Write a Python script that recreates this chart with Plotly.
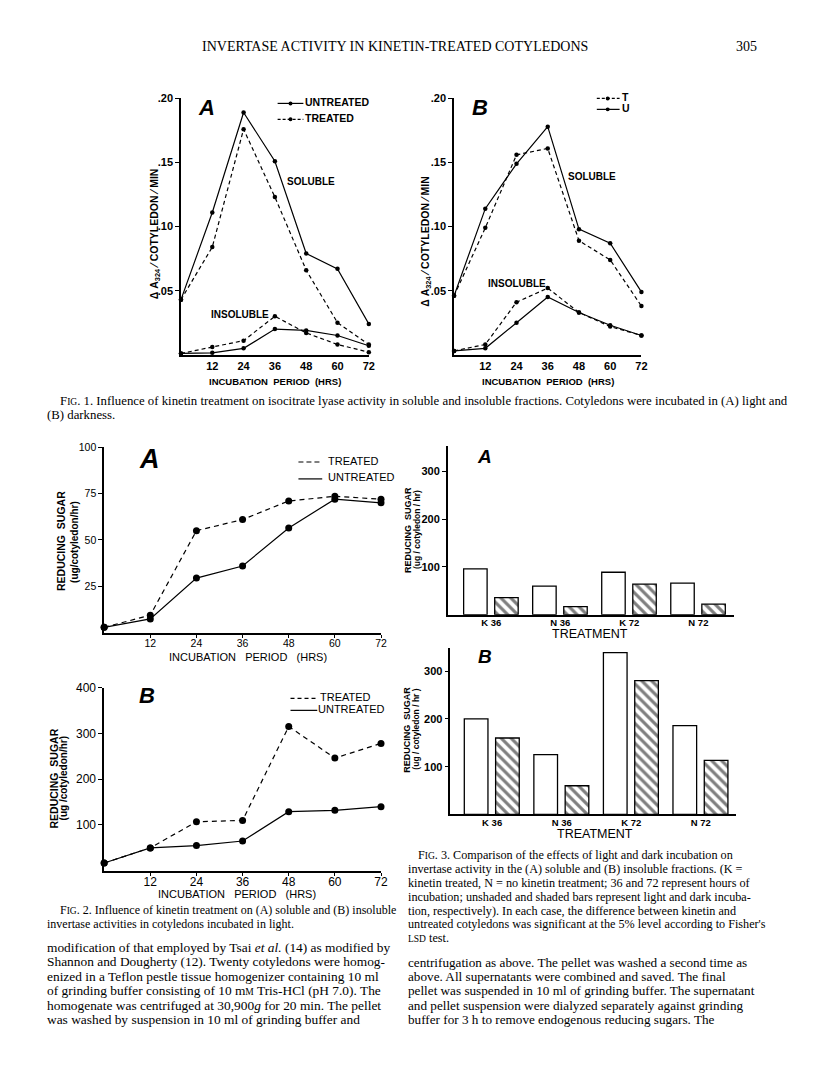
import plotly.graph_objects as go

# Page (window) size and the default 8px body margin of the written html page
PAGE_W, PAGE_H = 816, 1073
OFF = 8
W, H = PAGE_W - 2 * OFF, PAGE_H - 2 * OFF

# ---------------- DATA ----------------
hours = [0, 12, 24, 36, 48, 60, 72]
hour_ticks = [12, 24, 36, 48, 60, 72]

# Fig 1A (light)
f1a_sol_untreated = [0.043, 0.111, 0.189, 0.151, 0.079, 0.067, 0.024]
f1a_sol_treated = [0.043, 0.084, 0.176, 0.123, 0.066, 0.025, 0.008]
f1a_ins_untreated = [0.001, 0.0015, 0.005, 0.020, 0.019, 0.015, 0.007]
f1a_ins_treated = [0.001, 0.006, 0.011, 0.030, 0.017, 0.008, 0.002]

# Fig 1B (dark)
f1b_sol_U = [0.046, 0.114, 0.149, 0.178, 0.098, 0.087, 0.049]
f1b_sol_T = [0.046, 0.099, 0.156, 0.161, 0.089, 0.074, 0.038]
f1b_ins_U = [0.003, 0.005, 0.025, 0.045, 0.033, 0.023, 0.015]
f1b_ins_T = [0.003, 0.008, 0.041, 0.052, 0.033, 0.022, 0.015]

# Fig 2A (soluble)
f2a_treated = [3, 9.5, 55, 61, 71, 73.5, 72]
f2a_untreated = [3, 7.5, 29.5, 36, 56.5, 72, 70]

# Fig 2B (insoluble)
f2b_treated = [17, 50, 107, 110, 315, 246, 278]
f2b_untreated = [17, 50, 55, 65, 129, 132, 140]

# Fig 3
treatments = ["K 36", "N 36", "K 72", "N 72"]
f3a_light = [96, 60, 89, 66]
f3a_dark = [36, 17, 64, 22]
f3b_light = [200, 125, 339, 186]
f3b_dark = [160, 60, 280, 113]

# ---------------- TEXT ----------------
header = "INVERTASE ACTIVITY IN KINETIN-TREATED COTYLEDONS"
page_no = "305"
SC = "<span style='font-size:9.5px'>"
fig1_caption = [
    "F" + SC + "IG</span>. 1. Influence of kinetin treatment on isocitrate lyase activity in soluble and insoluble fractions. Cotyledons were incubated in (A) light and",
    "(B) darkness.",
]
fig2_caption = [
    "F" + SC + "IG</span>. 2. Influence of kinetin treatment on (A) soluble and (B) insoluble",
    "invertase activities in cotyledons incubated in light.",
]
fig3_caption = [
    "F" + SC + "IG</span>. 3. Comparison of the effects of light and dark incubation on",
    "invertase activity in the (A) soluble and (B) insoluble fractions. (K =",
    "kinetin treated, N = no kinetin treatment; 36 and 72 represent hours of",
    "incubation; unshaded and shaded bars represent light and dark incuba-",
    "tion, respectively). In each case, the difference between kinetin and",
    "untreated cotyledons was significant at the 5% level according to Fisher's",
    SC + "LSD</span> test.",
]
body_left = [
    "modification of that employed by Tsai <i>et al.</i> (14) as modified by",
    "Shannon and Dougherty (12). Twenty cotyledons were homog-",
    "enized in a Teflon pestle tissue homogenizer containing 10 ml",
    "of grinding buffer consisting of 10 m" + SC + "M</span> Tris-HCl (pH 7.0). The",
    "homogenate was centrifuged at 30,900<i>g</i> for 20 min. The pellet",
    "was washed by suspension in 10 ml of grinding buffer and",
]
body_right = [
    "centrifugation as above. The pellet was washed a second time as",
    "above. All supernatants were combined and saved. The final",
    "pellet was suspended in 10 ml of grinding buffer. The supernatant",
    "and pellet suspension were dialyzed separately against grinding",
    "buffer for 3 h to remove endogenous reducing sugars. The",
]

SANS = "Liberation Sans, Arial, sans-serif"
SERIF = "Liberation Serif, Times New Roman, serif"
TEXT_DY = -1.5  # text boxes sit slightly low for capitals


def px(x):
    return (x - OFF) / W


def py(y):
    return 1 - (y - OFF) / H


fig = go.Figure()
annotations = []
shapes = []


def ann(text, x, y, size=11, family=SANS, xanchor="left", angle=0, weight="normal"):
    annotations.append(dict(
        text=text, x=px(x), y=py(y + (TEXT_DY if angle == 0 else 0)), xref="paper", yref="paper",
        xanchor=xanchor, yanchor="middle", showarrow=False, textangle=angle,
        font=dict(size=size, family=family, color="black", weight=weight),
    ))


def hline(x0, x1, y, dash="solid", width=1.2):
    shapes.append(dict(type="line", xref="paper", yref="paper",
                       x0=px(x0), x1=px(x1), y0=py(y), y1=py(y),
                       line=dict(color="black", width=width, dash=dash)))


def dot(x, y, r=2):
    shapes.append(dict(type="circle", xref="paper", yref="paper",
                       x0=px(x - r), x1=px(x + r), y0=py(y + r), y1=py(y - r),
                       fillcolor="black", line=dict(color="black", width=0)))


def line_trace(xs, ys, xa, ya, dash, msize):
    fig.add_trace(go.Scatter(
        x=xs, y=ys, xaxis=xa, yaxis=ya, mode="lines+markers",
        line=dict(color="black", width=1.2, dash=dash),
        marker=dict(color="black", size=msize), cliponaxis=False,
        showlegend=False,
    ))


DASH = "4px,3px"

# Fig 1A
line_trace(hours, f1a_sol_untreated, "x", "y", "solid", 4.5)
line_trace(hours, f1a_sol_treated, "x", "y", DASH, 4.5)
line_trace(hours, f1a_ins_untreated, "x", "y", "solid", 4.5)
line_trace(hours, f1a_ins_treated, "x", "y", DASH, 4.5)
# Fig 1B
line_trace(hours, f1b_sol_U, "x2", "y2", "solid", 4.5)
line_trace(hours, f1b_sol_T, "x2", "y2", DASH, 4.5)
line_trace(hours, f1b_ins_U, "x2", "y2", "solid", 4.5)
line_trace(hours, f1b_ins_T, "x2", "y2", DASH, 4.5)
# Fig 2A
line_trace(hours, f2a_treated, "x3", "y3", "5px,4px", 7)
line_trace(hours, f2a_untreated, "x3", "y3", "solid", 7)
# Fig 2B
line_trace(hours, f2b_treated, "x4", "y4", "5px,4px", 7)
line_trace(hours, f2b_untreated, "x4", "y4", "solid", 7)

# Fig 3 bars
pos = [1, 2, 3, 4]
for xa, ya, light, dark in (("x5", "y5", f3a_light, f3a_dark), ("x6", "y6", f3b_light, f3b_dark)):
    fig.add_trace(go.Bar(
        x=pos, y=light, xaxis=xa, yaxis=ya, width=0.34, offset=-0.40,
        marker=dict(color="white", line=dict(color="black", width=1.3)),
        showlegend=False,
    ))
    fig.add_trace(go.Bar(
        x=pos, y=dark, xaxis=xa, yaxis=ya, width=0.34, offset=0.05,
        marker=dict(color="white", line=dict(color="black", width=1.3),
                    pattern=dict(shape="\\", fgcolor="black", bgcolor="white",
                                 size=7, solidity=0.45)),
        showlegend=False,
    ))


def xax(dom, rng, tickvals, ticktext=None, anchor="y", ticks="", size=11, weight="bold", standoff=None):
    d = dict(domain=[px(dom[0]), px(dom[1])], range=rng, anchor=anchor,
             tickvals=tickvals, showline=True, linecolor="black", linewidth=1.5,
             showgrid=False, zeroline=False, ticks=ticks, ticklen=3,
             tickcolor="black", tickfont=dict(size=size, family=SANS, color="black", weight=weight))
    if ticktext is not None:
        d["ticktext"] = ticktext
    if standoff is not None:
        d["ticklabelstandoff"] = standoff
    return d


def yax(dom, rng, tickvals, ticktext, anchor, size=11, weight="bold"):
    return dict(domain=[py(dom[1]), py(dom[0])], range=rng, anchor=anchor,
                tickvals=tickvals, ticktext=ticktext, showline=True,
                linecolor="black", linewidth=1.5, showgrid=False, zeroline=False,
                ticks="outside", ticklen=4, tickwidth=1.2, tickcolor="black",
                tickfont=dict(size=size, family=SANS, color="black", weight=weight))


f1_yt = [0.05, 0.10, 0.15, 0.20]
f1_ytt = [".05", ".10", ".15", ".20"]

layout_axes = dict(
    xaxis=xax((182.5, 372), [0, 72], hour_ticks, anchor="y"),
    yaxis=yax((92, 350), [0, 0.2], f1_yt, f1_ytt, "x"),
    xaxis2=xax((458, 647), [0, 72], hour_ticks, anchor="y2"),
    yaxis2=yax((92, 350), [0, 0.2], f1_yt, f1_ytt, "x2"),
    xaxis3=xax((105, 384.3), [0, 72], hour_ticks, anchor="y3", ticks="outside", size=10.5, weight="normal", standoff=-3),
    yaxis3=yax((443, 630), [0, 100], [25, 50, 75, 100], ["25", "50", "75", "100"], "x3", size=10.5, weight="normal"),
    xaxis4=xax((105, 384.3), [0, 72], hour_ticks, anchor="y4", ticks="outside", size=12, weight="normal", standoff=-4),
    yaxis4=yax((685, 869.5), [0, 400], [100, 200, 300, 400], ["100", "200", "300", "400"], "x4", size=12, weight="normal"),
    xaxis5=xax((451.7, 740), [0.371, 4.51], pos, treatments, anchor="y5", size=9.5, standoff=-2),
    yaxis5=yax((441.7, 611.7), [0, 354], [100, 200, 300], ["100", "200", "300"], "x5", size=11),
    xaxis6=xax((454.3, 742), [0.40, 4.50], pos, treatments, anchor="y6", size=9.5, standoff=-2),
    yaxis6=yax((645, 812.7), [0, 349], [100, 200, 300], ["100", "200", "300"], "x6", size=11),
)

# ---------------- Annotations ----------------
ann(header, 398, 41, size=14, family=SERIF, xanchor="center")
ann(page_no, 753, 41, size=14, family=SERIF, xanchor="center")

# Fig 1A
ann("<b><i>A</i></b>", 198, 103, size=22)
hline(280, 306, 97)
dot(293, 97)
ann("UNTREATED", 306, 97, size=10.5, weight="bold")
hline(280, 306, 113, dash="3px,2px")
dot(293, 113)
ann("TREATED", 306, 113, size=10.5, weight="bold")
ann("SOLUBLE", 287, 177, size=10, weight="bold")
ann("INSOLUBLE", 211, 311, size=10, weight="bold")
ann("Δ A<sub>324</sub> ⁄ COTYLEDON ⁄ MIN", 156, 228, size=10.5, xanchor="center", angle=-90, weight="bold")
ann("INCUBATION  PERIOD  (HRS)", 277, 378, size=9.5, xanchor="center", weight="bold")

# Fig 1B
ann("<b><i>B</i></b>", 474, 103, size=22)
hline(602, 625, 92, dash="3px,2px")
dot(613, 92)
ann("T", 625, 92, size=10.5, weight="bold")
hline(602, 625, 103)
dot(613, 103)
ann("U", 625, 103, size=10.5, weight="bold")
ann("SOLUBLE", 571, 172, size=10, weight="bold")
ann("INSOLUBLE", 490, 280, size=10, weight="bold")
ann("Δ A<sub>324</sub> ⁄ COTYLEDON ⁄ MIN", 430, 236, size=10.5, xanchor="center", angle=-90, weight="bold")
ann("INCUBATION  PERIOD  (HRS)", 553, 378, size=9.5, xanchor="center", weight="bold")

for i, t in enumerate(fig1_caption):
    ann(t, 58 if i == 0 else 45, 398 + 14 * i, size=12.8, family=SERIF)

# Fig 2A
ann("<b><i>A</i></b>", 138, 456, size=27)
hline(301, 325, 458, dash="5px,3px")
ann("TREATED", 329, 458, size=11)
hline(301, 325, 475)
ann("UNTREATED", 329, 475, size=11)
ann("REDUCING  SUGAR", 62, 538, size=10.5, xanchor="center", angle=-90, weight="bold")
ann("(ug/cotyledon/hr)", 75, 538, size=10, xanchor="center", angle=-90, weight="bold")
ann("INCUBATION   PERIOD   (HRS)", 250, 656, size=11, xanchor="center")

# Fig 2B
ann("<b><i>B</i></b>", 138, 695, size=22)
hline(293, 320, 696, dash="4px,3px")
ann("TREATED", 321, 696, size=11)
hline(293, 320, 708)
ann("UNTREATED", 319, 708, size=11)
ann("REDUCING  SUGAR", 54, 777, size=10.5, xanchor="center", angle=-90, weight="bold")
ann("(ug /cotyledon/hr)", 64, 777, size=10, xanchor="center", angle=-90, weight="bold")
ann("INCUBATION   PERIOD   (HRS)", 239, 894, size=11, xanchor="center")

for i, t in enumerate(fig2_caption):
    ann(t, 58 if i == 0 else 45, 910 + 15 * i, size=12, family=SERIF)

# Fig 3A
ann("<b><i>A</i></b>", 479, 454, size=19)
ann("REDUCING  SUGAR", 411, 526, size=9, xanchor="center", angle=-90, weight="bold")
ann("(ug / cotyledon / hr)", 420, 526, size=8.5, xanchor="center", angle=-90, weight="bold")
ann("TREATMENT", 595, 633, size=12.5, xanchor="center")

# Fig 3B
ann("<b><i>B</i></b>", 480, 655, size=19)
ann("REDUCING  SUGAR", 411, 727, size=9, xanchor="center", angle=-90, weight="bold")
ann("(ug / cotyledon / hr )", 420, 727, size=8.5, xanchor="center", angle=-90, weight="bold")
ann("TREATMENT", 600, 834, size=12.5, xanchor="center")

for i, t in enumerate(fig3_caption):
    ann(t, 420 if i == 0 else 410, 855 + 14 * i, size=12.2, family=SERIF)

for i, t in enumerate(body_left):
    ann(t, 45, 948 + 14.6 * i, size=13.4, family=SERIF)
for i, t in enumerate(body_right):
    ann(t, 410, 963 + 14.5 * i, size=13.2, family=SERIF)

fig.update_layout(
    width=W, height=H, margin=dict(l=0, r=0, t=0, b=0),
    paper_bgcolor="white", plot_bgcolor="rgba(0,0,0,0)",
    showlegend=False, barmode="overlay",
    annotations=annotations, shapes=shapes,
    **layout_axes,
)

fig.write_html("out.html")
